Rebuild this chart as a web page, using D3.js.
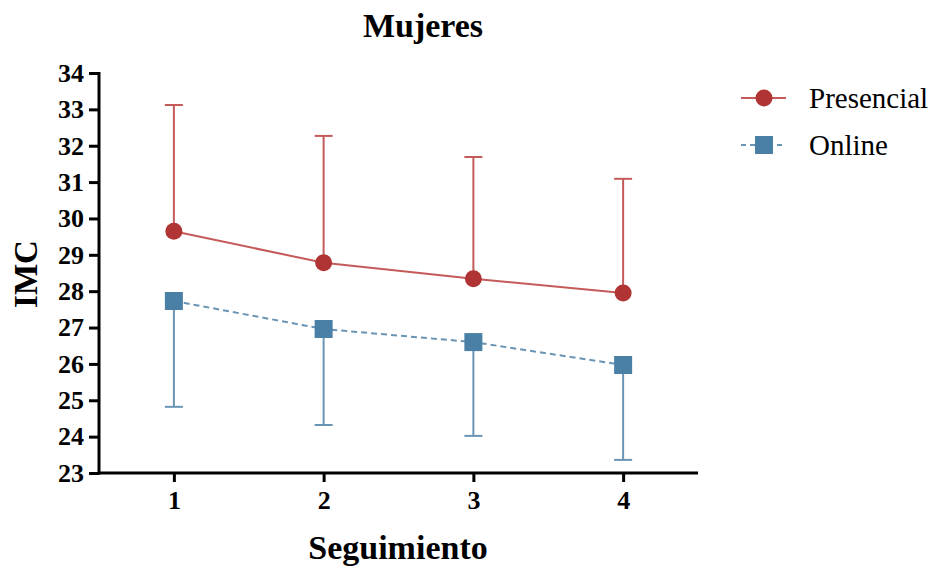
<!DOCTYPE html>
<html>
<head>
<meta charset="utf-8">
<script src="https://cdn.jsdelivr.net/npm/d3@7/dist/d3.min.js"></script>
<style>
  html, body { margin: 0; padding: 0; background: #fff; }
  svg { display: block; }
</style>
</head>
<body>
<svg id="chart" width="940" height="574"></svg>
<script>
// BMI follow-up, women, by modality
const visits = [1, 2, 3, 4];
const presencialMean = [29.65, 28.78, 28.34, 27.95];
const presencialSD   = [3.47, 3.49, 3.35, 3.14];
const onlineMean     = [27.73, 26.96, 26.60, 25.97];
const onlineSD       = [2.91, 2.64, 2.58, 2.61];
const yTicks = [23, 24, 25, 26, 27, 28, 29, 30, 31, 32, 33, 34];
const seriesNames = ["Presencial", "Online"];

const FONT = "'Liberation Serif', 'Times New Roman', serif";
const svg = d3.select("#chart");
const plotLeft = 99, plotRight = 698, plotTop = 73, plotBottom = 473;

const x = d3.scaleLinear().domain([0.5, 4.5]).range([plotLeft, plotRight]);
const y = d3.scaleLinear().domain([23, 34]).range([plotBottom, plotTop]);

const redLine = "#c55a5a", redFill = "#b03434";
const blueLine = "#6a94b4", blueFill = "#4a7fa6";

// axes
const yAxis = svg.append("g").attr("transform", `translate(${plotLeft},0)`)
  .call(d3.axisLeft(y).tickValues(yTicks).tickFormat(d3.format("d"))
    .tickSize(10).tickSizeOuter(0).tickPadding(5));
const xAxis = svg.append("g").attr("transform", `translate(0,${plotBottom})`)
  .call(d3.axisBottom(x).tickValues(visits).tickFormat(d3.format("d"))
    .tickSize(9).tickSizeOuter(0).tickPadding(9));
[yAxis, xAxis].forEach(a => {
  a.attr("font-family", FONT);
  a.select(".domain").attr("stroke", "#000").attr("stroke-width", 3);
  a.selectAll(".tick line").attr("stroke", "#000").attr("stroke-width", 3);
  a.selectAll(".tick text").attr("fill", "#000")
    .attr("font-family", FONT).attr("font-weight", "bold").attr("font-size", 26);
});
xAxis.select(".domain").attr("d", `M${plotLeft},0H${plotRight}`);
yAxis.select(".domain").attr("d", `M0,${plotTop - 1}V${plotBottom + 1.5}`);

// titles
const titleText = (sel) => sel.attr("font-family", FONT).attr("font-weight", "bold")
  .attr("text-anchor", "middle").attr("fill", "#000");
svg.append("text").call(titleText).attr("x", 423).attr("y", 37)
  .attr("font-size", 34).text("Mujeres");
svg.append("text").call(titleText).attr("x", 398).attr("y", 559)
  .attr("font-size", 34).text("Seguimiento");
svg.append("text").call(titleText).attr("transform", "translate(37,274) rotate(-90)")
  .attr("font-size", 33).text("IMC");

const cap = 9;

const pres = visits.map((v, i) => ({ v, m: presencialMean[i], sd: presencialSD[i] }));
const onl = visits.map((v, i) => ({ v, m: onlineMean[i], sd: onlineSD[i] }));

// Presencial: upper error bars
const gP = svg.append("g");
gP.selectAll("line.eb").data(pres).join("line").attr("class", "eb")
  .attr("x1", d => x(d.v)).attr("x2", d => x(d.v))
  .attr("y1", d => y(d.m)).attr("y2", d => y(d.m + d.sd))
  .attr("stroke", redLine).attr("stroke-width", 2);
gP.selectAll("line.cap").data(pres).join("line").attr("class", "cap")
  .attr("x1", d => x(d.v) - cap).attr("x2", d => x(d.v) + cap)
  .attr("y1", d => y(d.m + d.sd)).attr("y2", d => y(d.m + d.sd))
  .attr("stroke", redLine).attr("stroke-width", 2);
gP.append("path").datum(pres)
  .attr("d", d3.line().x(d => x(d.v)).y(d => y(d.m)))
  .attr("fill", "none").attr("stroke", redLine).attr("stroke-width", 2);
gP.selectAll("circle").data(pres).join("circle")
  .attr("cx", d => x(d.v)).attr("cy", d => y(d.m)).attr("r", 8.5).attr("fill", redFill);

// Online: lower error bars
const gO = svg.append("g");
gO.selectAll("line.eb").data(onl).join("line").attr("class", "eb")
  .attr("x1", d => x(d.v)).attr("x2", d => x(d.v))
  .attr("y1", d => y(d.m)).attr("y2", d => y(d.m - d.sd))
  .attr("stroke", blueLine).attr("stroke-width", 2);
gO.selectAll("line.cap").data(onl).join("line").attr("class", "cap")
  .attr("x1", d => x(d.v) - cap).attr("x2", d => x(d.v) + cap)
  .attr("y1", d => y(d.m - d.sd)).attr("y2", d => y(d.m - d.sd))
  .attr("stroke", blueLine).attr("stroke-width", 2);
gO.append("path").datum(onl)
  .attr("d", d3.line().x(d => x(d.v)).y(d => y(d.m)))
  .attr("fill", "none").attr("stroke", blueLine).attr("stroke-width", 2)
  .attr("stroke-dasharray", "6,4");
gO.selectAll("rect").data(onl).join("rect")
  .attr("x", d => x(d.v) - 9).attr("y", d => y(d.m) - 9)
  .attr("width", 18).attr("height", 18).attr("fill", blueFill);

// legend
const lg = svg.append("g").attr("font-family", FONT).attr("font-size", 29).attr("fill", "#000");
lg.append("line").attr("x1", 741).attr("x2", 786).attr("y1", 98).attr("y2", 98)
  .attr("stroke", redLine).attr("stroke-width", 2);
lg.append("circle").attr("cx", 764).attr("cy", 98).attr("r", 8.5).attr("fill", redFill);
lg.append("text").attr("x", 809).attr("y", 108).text(seriesNames[0]);
lg.append("line").attr("x1", 741).attr("x2", 786).attr("y1", 145).attr("y2", 145)
  .attr("stroke", blueLine).attr("stroke-width", 2).attr("stroke-dasharray", "5,4");
lg.append("rect").attr("x", 755).attr("y", 136).attr("width", 18).attr("height", 18).attr("fill", blueFill);
lg.append("text").attr("x", 809).attr("y", 155).text(seriesNames[1]);
</script>
</body>
</html>
